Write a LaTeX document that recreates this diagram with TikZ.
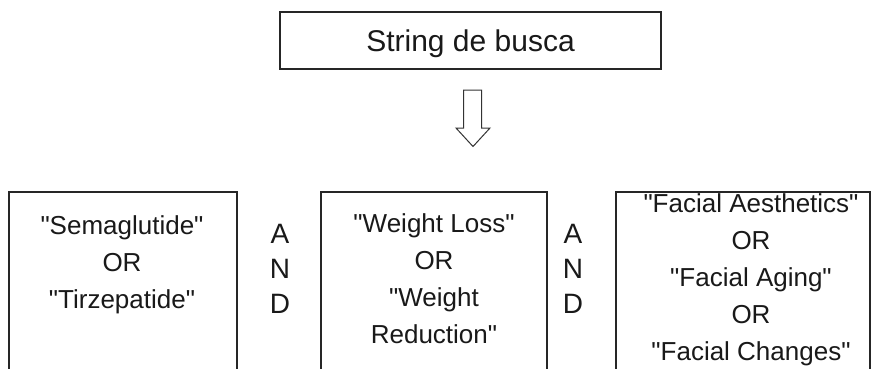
\documentclass[tikz,border=0pt]{standalone}
\usepackage{fontspec}
\setmainfont{Liberation Sans}[Ligatures=TeXOff]
\begin{document}
\begin{tikzpicture}[x=1pt,y=-1pt,
  boxstyle/.style={draw=black!85, line width=1.3pt, rectangle, inner sep=0pt},
  boxtext/.style={align=center, anchor=base, inner sep=0pt, font=\fontsize{26}{37}\selectfont, text=black!90},
  andtext/.style={align=center, anchor=base, inner sep=0pt, font=\fontsize{28}{35}\selectfont, text=black!90},
  arrowstyle/.style={draw=black!80, line width=1pt, fill=white, line join=miter}]
\clip (0,0) rectangle (871,368);
\fill[white] (0,0) rectangle (871,368);
% top box
\node[boxstyle, minimum width=381pt, minimum height=57pt] (top) at (470.5,40.5) {};
\node[inner sep=0pt, anchor=base, font=\fontsize{30}{36}\selectfont, text=black!90] (title) at (470.5,51) {String de busca};
% hollow down arrow
\coordinate (a1) at (463.5,90);
\coordinate (a2) at (481.5,90);
\coordinate (a3) at (481.5,128);
\coordinate (a4) at (490,128);
\coordinate (tip) at (473,146.5);
\coordinate (a6) at (456,128);
\coordinate (a7) at (463.5,128);
\draw[arrowstyle] (a1) -- (a2) -- (a3) -- (a4) -- (tip) -- (a6) -- (a7) -- cycle;
% boxes
\node[boxstyle, minimum width=228pt, minimum height=200pt] (b1) at (123,292) {};
\node[boxstyle, minimum width=226pt, minimum height=200pt] (b2) at (434,292) {};
\node[boxstyle, minimum width=254pt, minimum height=200pt] (b3) at (743,292) {};
% texts (anchor base = baseline of last line)
\node[boxtext] (t1) at (122,308) {"Semaglutide"\\OR\\"Tirzepatide"};
\node[boxtext] (t2) at (434,343) {"Weight Loss"\\OR\\"Weight\\Reduction"};
\node[boxtext] (t3) at (751,360) {"Facial Aesthetics"\\OR\\"Facial Aging"\\OR\\"Facial Changes"};
\node[andtext] (and1) at (280,313) {A\\N\\D};
\node[andtext] (and2) at (573,313) {A\\N\\D};
\end{tikzpicture}
\end{document}
